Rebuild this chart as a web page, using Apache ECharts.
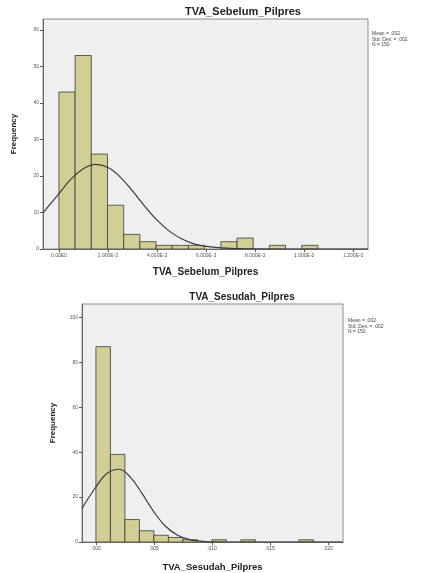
<!DOCTYPE html>
<html>
<head>
<meta charset="utf-8">
<script src="https://cdn.jsdelivr.net/npm/echarts@6/dist/echarts.min.js"></script>
<style>
html,body{margin:0;padding:0;background:#fff;}
#chart{width:428px;height:573px;}
</style>
</head>
<body>
<div id="chart"></div>
<script>
// TVA_Sebelum_Pilpres (top)
let sebelumBinWidth = 0.00066;
let sebelumCounts = [43, 53, 26, 12, 4, 2, 1, 1, 1, 0, 2, 3, 0, 1, 0, 1];
let sebelumCurveX = [-0.00065, 0, 0.0005, 0.001, 0.0015, 0.002, 0.0025, 0.003, 0.0035, 0.004, 0.0045, 0.005, 0.0055, 0.006, 0.007, 0.008, 0.01, 0.0126];
let sebelumCurveY = [9.9, 15.2, 19.2, 22.0, 23.2, 22.3, 19.7, 15.9, 11.7, 7.9, 4.9, 2.8, 1.4, 0.7, 0.15, 0.03, 0, 0];
let sebelumTicks = [0, 0.002, 0.004, 0.006, 0.008, 0.010, 0.012];
let sebelumTickLabels = ["0.00E0", "2.000E-3", "4.000E-3", "6.000E-3", "8.000E-3", "1.000E-2", "1.200E-2"];
let sebelumStats = ["Mean = .002", "Std. Dev. = .002", "N = 150"];

// TVA_Sesudah_Pilpres (bottom)
let sesudahBinWidth = 0.00125;
let sesudahCounts = [87, 39, 10, 5, 3, 2, 1, 0, 1, 0, 1, 0, 0, 0, 1];
let sesudahCurveX = [-0.0012, 0, 0.001, 0.002, 0.003, 0.004, 0.005, 0.006, 0.007, 0.008, 0.009, 0.010, 0.012, 0.0213];
let sesudahCurveY = [14.9, 24.5, 30.7, 32.4, 28.7, 21.4, 13.4, 7.0, 3.1, 1.2, 0.4, 0.1, 0, 0];
let sesudahTicks = [0, 0.005, 0.010, 0.015, 0.020];
let sesudahTickLabels = [".000", ".005", ".010", ".015", ".020"];
let sesudahStats = ["Mean = .002", "Std. Dev. = .002", "N = 150"];

let font = "'Liberation Sans', Arial, sans-serif";

function bins(counts, w) {
	let out = [];
	counts.forEach(function (c, i) {
		if (c > 0) out.push([i * w, (i + 1) * w, c]);
	});
	return out;
}

function pairs(xs, ys) {
	return xs.map(function (x, i) { return [x, ys[i]]; });
}

function labelFor(ticks, labels) {
	return function (v) {
		for (let i = 0; i < ticks.length; i++) {
			if (Math.abs(ticks[i] - v) < 1e-9) return labels[i];
		}
		return '';
	};
}

function histItem(params, api) {
	let p0 = api.coord([api.value(0), api.value(2)]);
	let p1 = api.coord([api.value(1), 0]);
	return {
		type: 'rect',
		shape: { x: p0[0], y: p0[1], width: p1[0] - p0[0], height: p1[1] - p0[1] },
		style: { fill: '#d3cd96', stroke: '#3c3b30', lineWidth: 0.8 }
	};
}

function xAxisOf(idx, min, max, ticks, labels, name, nameSize, gap) {
	return {
		gridIndex: idx,
		type: 'value',
		min: min,
		max: max,
		splitLine: { show: false },
		axisLine: { onZero: false, lineStyle: { color: '#666', width: 1 } },
		axisTick: { customValues: ticks, length: 3, lineStyle: { color: '#555' } },
		axisLabel: { customValues: ticks, formatter: labelFor(ticks, labels), fontSize: 5, color: '#555', margin: 4, fontFamily: font },
		name: name,
		nameLocation: 'middle',
		nameGap: gap,
		nameTextStyle: { fontWeight: 'bold', fontSize: nameSize, color: '#222', fontFamily: font }
	};
}

function yAxisOf(idx, max, interval) {
	return {
		gridIndex: idx,
		type: 'value',
		min: 0,
		max: max,
		interval: interval,
		splitLine: { show: false },
		axisLine: { show: true, onZero: false, lineStyle: { color: '#666', width: 1 } },
		axisTick: { show: true, length: 3, lineStyle: { color: '#555' } },
		axisLabel: { fontSize: 5, color: '#555', margin: 4, fontFamily: font, showMaxLabel: false },
		name: 'Frequency',
		nameLocation: 'middle',
		nameRotate: 90,
		nameGap: 25,
		nameTextStyle: { fontWeight: 'bold', fontSize: 8, color: '#222', fontFamily: font }
	};
}

let chart = echarts.init(document.getElementById('chart'));

let opt = {
	backgroundColor: '#ffffff',
	animation: false,
	title: [
		{
			text: 'TVA_Sebelum_Pilpres', left: 243, top: 6, textAlign: 'center', padding: 0,
			textStyle: { fontSize: 11, fontWeight: 'bold', color: '#222', fontFamily: font }
		},
		{
			text: sebelumStats.join('\n'), left: 372, top: 31, padding: 0,
			textStyle: { fontSize: 5, fontWeight: 'normal', color: '#444', lineHeight: 5.5, fontFamily: font }
		},
		{
			text: 'TVA_Sesudah_Pilpres', left: 242, top: 292, textAlign: 'center', padding: 0,
			textStyle: { fontSize: 10, fontWeight: 'bold', color: '#222', fontFamily: font }
		},
		{
			text: sesudahStats.join('\n'), left: 348, top: 318, padding: 0,
			textStyle: { fontSize: 5, fontWeight: 'normal', color: '#444', lineHeight: 5.5, fontFamily: font }
		}
	],
	grid: [
		{ left: 43, top: 19, width: 325, height: 230, show: true, backgroundColor: '#efefef', borderColor: '#8c8c8c', borderWidth: 1 },
		{ left: 82, top: 304, width: 261, height: 242, show: true, backgroundColor: '#efefef', borderColor: '#8c8c8c', borderWidth: 1 }
	],
	xAxis: [
		xAxisOf(0, -0.00065, 0.0126, sebelumTicks, sebelumTickLabels, 'TVA_Sebelum_Pilpres', 10, 18),
		xAxisOf(1, -0.0012, 0.0213, sesudahTicks, sesudahTickLabels, 'TVA_Sesudah_Pilpres', 9.5, 20)
	],
	yAxis: [
		yAxisOf(0, 63, 10),
		yAxisOf(1, 106, 20)
	],
	series: [
		{
			type: 'custom', xAxisIndex: 0, yAxisIndex: 0,
			renderItem: histItem, clip: true,
			encode: { x: [0, 1], y: 2 },
			data: bins(sebelumCounts, sebelumBinWidth)
		},
		{
			type: 'line', xAxisIndex: 0, yAxisIndex: 0,
			data: pairs(sebelumCurveX, sebelumCurveY),
			smooth: 0.4, showSymbol: false,
			lineStyle: { color: '#3a3a3a', width: 1.2 }
		},
		{
			type: 'custom', xAxisIndex: 1, yAxisIndex: 1,
			renderItem: histItem, clip: true,
			encode: { x: [0, 1], y: 2 },
			data: bins(sesudahCounts, sesudahBinWidth)
		},
		{
			type: 'line', xAxisIndex: 1, yAxisIndex: 1,
			data: pairs(sesudahCurveX, sesudahCurveY),
			smooth: 0.4, showSymbol: false,
			lineStyle: { color: '#3a3a3a', width: 1.2 }
		}
	]
};
chart.setOption(opt);
</script>
</body>
</html>
